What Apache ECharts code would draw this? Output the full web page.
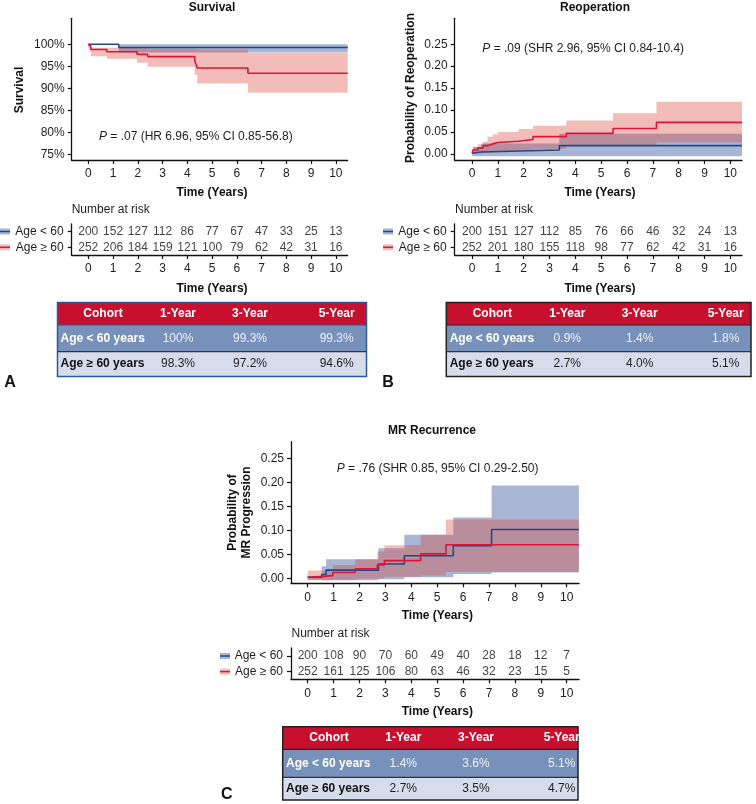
<!DOCTYPE html>
<html><head><meta charset="utf-8">
<script src="https://cdn.jsdelivr.net/npm/echarts@6/dist/echarts.min.js"></script>
<style>html,body{margin:0;padding:0;background:#fff}#c{width:756px;height:804px}</style>
</head><body><div id="c"></div><script>
// ---------- DATA ----------
const years = [0,1,2,3,4,5,6,7,8,9,10];
const groups = ['Age ≥ 60', 'Age < 60'];
const survTicks = [75,80,85,90,95,100];
const probTicks = [0,0.05,0.10,0.15,0.20,0.25];

// Panel A: Survival (percent)
const survYoungT = [0, 1.23, 10.48];
const survYoungV = [100, 99.25, 99.25];
const survYoungBandLo = [99.85, 98.15, 98.15];
const survYoungBandHi = [100, 100, 100];
const survOldT = [0, 0.05, 0.1, 0.75, 1.97, 2.4, 4.3, 4.35, 4.4, 6.45, 10.48];
const survOldV = [100, 99.6, 98.8, 98.3, 97.7, 97.2, 96.2, 95.5, 94.6, 93.4, 93.4];
const survOldBandT = [0, 0.1, 0.75, 1.97, 2.4, 4.3, 4.4, 6.45, 10.48];
const survOldBandLo = [99.0, 97.3, 96.7, 95.8, 94.9, 93.0, 91.1, 89.0, 89.0];
const survOldBandHi = [100, 99.2, 99.2, 99.1, 99.0, 98.9, 98.8, 98.0, 98.0];

// Panel B: Reoperation
const reopYoungT = [0, 0.05, 0.35, 3.38, 10.45];
const reopYoungV = [0.0015, 0.0045, 0.009, 0.019, 0.019];
const reopYoungBandLo = [-0.004, -0.005, -0.005, -0.005, -0.005];
const reopYoungBandHi = [0.005, 0.016, 0.024, 0.046, 0.046];
const reopOldT = [0, 0.04, 0.23, 0.43, 0.6, 0.81, 1.0, 1.8, 2.36, 3.65, 5.46, 7.14, 10.45];
const reopOldV = [0.0015, 0.009, 0.014, 0.019, 0.023, 0.026, 0.029, 0.033, 0.0395, 0.047, 0.058, 0.072, 0.072];
const reopOldBandLo = [0, 0, 0.001, 0.002, 0.003, 0.004, 0.005, 0.008, 0.012, 0.019, 0.02, 0.026, 0.026];
const reopOldBandHi = [0.012, 0.0167, 0.022, 0.028, 0.039, 0.045, 0.050, 0.057, 0.0645, 0.076, 0.0927, 0.119, 0.119];

// Panel C: MR Recurrence
const mrYoungT = [0, 0.54, 0.71, 2.73, 3.73, 5.62, 7.1, 10.47];
const mrYoungV = [0.002, 0.008, 0.017, 0.030, 0.047, 0.068, 0.102, 0.102];
const mrYoungBandLo = [-0.003, -0.004, -0.004, -0.002, 0.002, 0.009, 0.012, 0.012];
const mrYoungBandHi = [0.004, 0.025, 0.040, 0.063, 0.091, 0.127, 0.194, 0.194];
const mrOldT = [0, 0.09, 0.97, 1.83, 2.69, 2.96, 4.36, 5.34, 10.47];
const mrOldV = [0.002, 0.0055, 0.012, 0.020, 0.028, 0.037, 0.051, 0.070, 0.070];
const mrOldBandLo = [-0.004, -0.004, -0.003, -0.001, 0.0, 0.003, 0.006, 0.013, 0.013];
const mrOldBandHi = [0.016, 0.016, 0.028, 0.040, 0.056, 0.069, 0.091, 0.123, 0.123];

// Numbers at risk
const riskA_young = [200,152,127,112,86,77,67,47,33,25,13];
const riskA_old   = [252,206,184,159,121,100,79,62,42,31,16];
const riskB_young = [200,151,127,112,85,76,66,46,32,24,13];
const riskB_old   = [252,201,180,155,118,98,77,62,42,31,16];
const riskC_young = [200,108,90,70,60,49,40,28,18,12,7];
const riskC_old   = [252,161,125,106,80,63,46,32,23,15,5];

// Summary tables
const tableHeader = ['Cohort','1-Year','3-Year','5-Year'];
const tableRows = ['Age < 60 years','Age ≥ 60 years'];
const tabA_young = ['100%','99.3%','99.3%'];
const tabA_old   = ['98.3%','97.2%','94.6%'];
const tabB_young = ['0.9%','1.4%','1.8%'];
const tabB_old   = ['2.7%','4.0%','5.1%'];
const tabC_young = ['1.4%','3.6%','5.1%'];
const tabC_old   = ['2.7%','3.5%','4.7%'];

const pA = 'P = .07 (HR 6.96, 95% CI 0.85-56.8)';
const pB = 'P = .09 (SHR 2.96, 95% CI 0.84-10.4)';
const pC = 'P = .76 (SHR 0.85, 95% CI 0.29-2.50)';

// ---------- STYLE ----------
const FONT = '"Liberation Sans", Arial, Helvetica, sans-serif';
const BLUE = '#1d4a8c', RED = '#dc1439';
const BLUE_BAND = 'rgba(62,91,157,0.45)', RED_BAND = 'rgba(218,66,52,0.35)';
const TXT = '#1e1e1e';

const zip = (t, v) => t.map((x, i) => [x, v[i]]);

function bandSeries(gi, t, lo, hi, color){
  return {type:'custom', xAxisIndex:gi, yAxisIndex:gi, silent:true, clip:true, z:1,
    data:[[t[0], lo[0]]],
    renderItem:function(params, api){
      const pts = [];
      for (let i=0;i<t.length-1;i++){ pts.push(api.coord([t[i],hi[i]])); pts.push(api.coord([t[i+1],hi[i]])); }
      for (let i=t.length-2;i>=0;i--){ pts.push(api.coord([t[i+1],lo[i]])); pts.push(api.coord([t[i],lo[i]])); }
      return {type:'polygon', shape:{points:pts}, style:{fill:color}};
    }};
}
function lineSeries(gi, t, v, color){
  return {type:'line', xAxisIndex:gi, yAxisIndex:gi, step:'end', showSymbol:false, symbol:'none', silent:true, z:3,
    data: zip(t, v), lineStyle:{color:color, width:1.6}};
}
function riskSeries(gi, counts, row){
  return {type:'scatter', xAxisIndex:gi, yAxisIndex:gi, symbolSize:2, silent:true, z:5,
    itemStyle:{color:'rgba(0,0,0,0)'},
    data: years.map((y,i)=>[y,row,counts[i]]),
    labelLayout:{hideOverlap:false},
    label:{show:true, position:'inside', formatter:p=>String(p.value[2]), fontSize:12, color:'#111',
      textBorderWidth:0, fontFamily:FONT}};
}
const axLine = {show:true, onZero:false, lineStyle:{color:'#111', width:1.3}};
function xAx(gi, min, max){
  return {type:'value', gridIndex:gi, min:min, max:max, splitLine:{show:false}, axisLine:axLine,
    axisTick:{show:true, customValues:years, length:4, lineStyle:{color:'#111', width:1.2}},
    axisLabel:{customValues:years, fontSize:12, color:TXT, fontFamily:FONT, margin:8}};
}
function yAx(gi, min, max, ticks, fmt){
  return {type:'value', gridIndex:gi, min:min, max:max, splitLine:{show:false}, axisLine:axLine,
    axisTick:{show:true, customValues:ticks, length:4, lineStyle:{color:'#111', width:1.2}},
    axisLabel:{customValues:ticks, fontSize:12, color:TXT, fontFamily:FONT, margin:7, formatter:fmt}};
}
function yCat(gi){
  return {type:'category', gridIndex:gi, data:groups, axisLine:axLine,
    axisTick:{show:true, alignWithLabel:true, interval:0, length:4, lineStyle:{color:'#111', width:1.2}},
    axisLabel:{interval:0, hideOverlap:false, fontSize:12, color:TXT, fontFamily:FONT, margin:8}};
}

// ---------- GRAPHIC ----------
const G = [];
function txt(x, y, s, o){
  o = o || {};
  G.push({type:'text', x:x, y:y, rotation:o.rot||0, z:10, style:{text:s, fill:o.fill||'#111', fontFamily:FONT,
    fontSize:o.size||12, fontWeight:o.bold?'bold':'normal', align:o.align||'center', verticalAlign:'middle',
    lineHeight:o.lh, rich:o.rich}});
}
function pText(x, y, s){
  G.push({type:'text', x:x, y:y, z:10, style:{text:'{i|P}' + s.slice(1), fill:TXT, fontFamily:FONT, fontSize:12,
    align:'left', verticalAlign:'middle', rich:{i:{fontStyle:'italic', fontFamily:FONT, fontSize:12, fill:TXT}}}});
}
function swatch(x, y, band, line){
  G.push({type:'rect', shape:{x:x, y:y-3, width:10, height:6}, style:{fill:band}, z:10});
  G.push({type:'line', shape:{x1:x, y1:y, x2:x+10, y2:y}, style:{stroke:line, lineWidth:1.5}, z:11});
}
function table(x0, x1, ys, cols, labelX, young, old, border){
  const fills = ['#c8102e', '#7891ba', '#d6dcec'];
  for (let r=0;r<3;r++){
    G.push({type:'rect', shape:{x:x0, y:ys[r], width:x1-x0, height:ys[r+1]-ys[r]}, style:{fill:fills[r]}, z:5});
  }
  for (let r=1;r<3;r++){
    G.push({type:'line', shape:{x1:x0, y1:ys[r], x2:x1, y2:ys[r]}, style:{stroke:r===1?border:'#333', lineWidth:1.2}, z:6});
  }
  G.push({type:'rect', shape:{x:x0, y:ys[0], width:x1-x0, height:ys[3]-ys[0]}, style:{fill:'none', stroke:border, lineWidth:1.5}, z:7});
  const mid = r => (ys[r]+ys[r+1])/2;
  tableHeader.forEach((h,i)=>txt(cols[i], mid(0), h, {bold:true, fill:'#fff'}));
  txt(labelX, mid(1), tableRows[0], {bold:true, fill:'#fff', align:'left'});
  txt(labelX, mid(2), tableRows[1], {bold:true, fill:'#111', align:'left'});
  young.forEach((v,i)=>txt(cols[i+1], mid(1), v, {fill:'#eef1f7'}));
  old.forEach((v,i)=>txt(cols[i+1], mid(2), v, {fill:TXT}));
}

// titles
txt(212, 7.5, 'Survival', {bold:true});
txt(595, 7.5, 'Reoperation', {bold:true});
txt(432, 430.7, 'MR Recurrence', {bold:true});
// axis names
txt(20, 90, 'Survival', {bold:true, rot:Math.PI/2});
txt(411, 88, 'Probability of Reoperation', {bold:true, rot:Math.PI/2});
txt(239.5, 512.5, 'Probability of\nMR Progression', {bold:true, rot:Math.PI/2, lh:14});
txt(212, 192.7, 'Time (Years)', {bold:true});
txt(212, 288.3, 'Time (Years)', {bold:true});
txt(600, 192.7, 'Time (Years)', {bold:true});
txt(600, 288.3, 'Time (Years)', {bold:true});
txt(437.3, 616, 'Time (Years)', {bold:true});
txt(437.3, 711.7, 'Time (Years)', {bold:true});
// number at risk
txt(71.7, 210, 'Number at risk', {align:'left', fill:TXT});
txt(455, 210, 'Number at risk', {align:'left', fill:TXT});
txt(291.5, 634, 'Number at risk', {align:'left', fill:TXT});
// p-values
pText(99, 137, pA);
pText(482.3, 48.3, pB);
pText(336.7, 468.3, pC);
// swatches
swatch(0, 231.5, BLUE_BAND, BLUE); swatch(0, 247.3, RED_BAND, RED);
swatch(383, 231.5, BLUE_BAND, BLUE); swatch(383, 247.3, RED_BAND, RED);
swatch(220, 656, BLUE_BAND, BLUE); swatch(220, 671.6, RED_BAND, RED);
// tables
table(57.5, 366.5, [302.5, 325, 351.7, 376.5], [103, 178, 250, 336.7], 60.5, tabA_young, tabA_old, '#2a5a9a');
table(446.3, 751, [302.5, 325, 351.7, 376.5], [492.3, 567.3, 639.7, 725.7], 449.7, tabB_young, tabB_old, '#222');
table(282.7, 578, [726.7, 749.3, 777.3, 800], [329, 403.3, 476, 561.7], 286, tabC_young, tabC_old, '#222');
// panel letters
txt(10, 383, 'A', {bold:true, size:16});
txt(388, 383, 'B', {bold:true, size:16});
txt(226.7, 795, 'C', {bold:true, size:16});

// ---------- CHART ----------
const chart = echarts.init(document.getElementById('c'), null, {renderer:'canvas'});
chart.setOption({
  animation:false,
  backgroundColor:'#fff',
  grid:[
    {left:71.7, top:18.3, width:276, height:141.7},
    {left:454.7, top:18.3, width:287.3, height:141.7},
    {left:291, top:441.7, width:288, height:141.6},
    {left:71.7, top:223.8, width:276, height:31.2},
    {left:454.7, top:223.8, width:287.3, height:31.2},
    {left:291, top:648, width:288, height:31.3}
  ],
  xAxis:[xAx(0,-0.67,10.48), xAx(1,-0.67,10.45), xAx(2,-0.645,10.475),
         xAx(3,-0.67,10.48), xAx(4,-0.67,10.45), xAx(5,-0.645,10.475)],
  yAxis:[yAx(0,73.7,105.9,survTicks,v=>v+'%'),
         yAx(1,-0.0137,0.309,probTicks,v=>v.toFixed(2)),
         yAx(2,-0.0105,0.2855,probTicks,v=>v.toFixed(2)),
         yCat(3), yCat(4), yCat(5)],
  series:[
    bandSeries(0, survYoungT, survYoungBandLo, survYoungBandHi, BLUE_BAND),
    bandSeries(0, survOldBandT, survOldBandLo, survOldBandHi, RED_BAND),
    lineSeries(0, survYoungT, survYoungV, BLUE),
    lineSeries(0, survOldT, survOldV, RED),
    bandSeries(1, reopYoungT, reopYoungBandLo, reopYoungBandHi, BLUE_BAND),
    bandSeries(1, reopOldT, reopOldBandLo, reopOldBandHi, RED_BAND),
    lineSeries(1, reopYoungT, reopYoungV, BLUE),
    lineSeries(1, reopOldT, reopOldV, RED),
    bandSeries(2, mrYoungT, mrYoungBandLo, mrYoungBandHi, BLUE_BAND),
    bandSeries(2, mrOldT, mrOldBandLo, mrOldBandHi, RED_BAND),
    lineSeries(2, mrYoungT, mrYoungV, BLUE),
    lineSeries(2, mrOldT, mrOldV, RED),
    riskSeries(3, riskA_young, 1), riskSeries(3, riskA_old, 0),
    riskSeries(4, riskB_young, 1), riskSeries(4, riskB_old, 0),
    riskSeries(5, riskC_young, 1), riskSeries(5, riskC_old, 0)
  ],
  graphic: G
});
</script></body></html>
